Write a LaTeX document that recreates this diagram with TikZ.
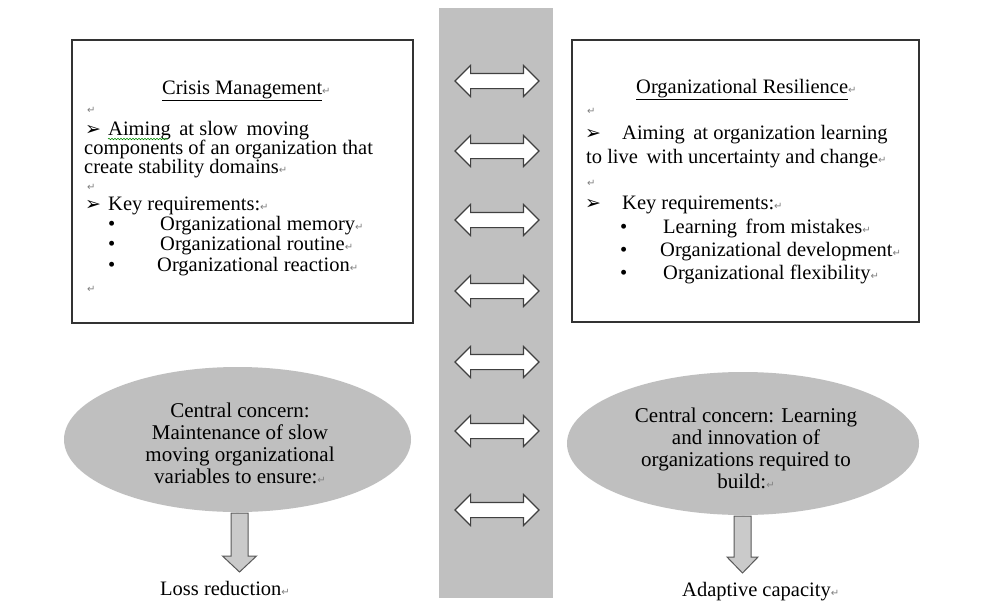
\documentclass[tikz,border=0pt]{standalone}
\usepackage{fontspec}
\setmainfont{Liberation Serif}
\newfontfamily\dejavu{DejaVu Sans}
\usetikzlibrary{shapes.geometric,shapes.arrows,decorations.pathmorphing}
\definecolor{bandgray}{RGB}{192,192,192}
\definecolor{ellgray}{RGB}{191,191,191}
\definecolor{arrgray}{RGB}{202,202,202}
\newcommand{\retm}{{\dejavu\fontsize{10}{10}\selectfont\textcolor{black!50}{↵}}}
\newcommand{\pntr}{{\dejavu\bfseries\fontsize{19}{19}\selectfont ➢}}
\begin{document}
\begin{tikzpicture}[x=1pt,y=-1pt,
  txt/.style={inner sep=0pt, anchor=base west, font=\fontsize{20.5}{20.5}\selectfont},
  rmark/.style={inner sep=0pt, anchor=base west},
  box/.style={draw=black!80, line width=1.3pt, rectangle, inner sep=0pt},
  dblarr/.style={double arrow, draw=black!75, fill=white, line width=1.1pt,
    minimum height=84pt, minimum width=30pt, inner xsep=0pt, inner ysep=7pt,
    double arrow head extend=8pt},
  downarr/.style={draw=black!65, fill=arrgray, line width=1pt, line join=miter},
  ell/.style={ellipse, fill=ellgray, inner sep=0pt},
  elltxt/.style={inner sep=0pt, align=center, font=\fontsize{21}{22}\selectfont},
  squig/.style={draw=green!55!black, line width=0.6pt, decorate,
    decoration={snake, amplitude=0.7pt, segment length=3pt}}]
\useasboundingbox (0,0) rectangle (1000,610);
\fill[white] (0,0) rectangle (1000,610);

% central band
\node[fill=bandgray, inner sep=0pt, minimum width=114pt, minimum height=590pt] (band) at (496,303) {};

% double arrows
\foreach \y [count=\i] in {81,151,220,291,362,431,510}
  \node[dblarr] (da\i) at (497,\y) {};

% boxes
\node[box, minimum width=341pt, minimum height=283pt] (lbox) at (242.5,181.5) {};
\node[box, minimum width=347pt, minimum height=282pt] (rbox) at (745.5,181) {};

% left box text
\node[txt] (lt1) at (162,94) {\underline{Crisis Management}\retm};
\node[rmark] (lr1) at (87,113) {\retm};
\node[rmark] (lp1) at (85,135) {\pntr};
\node[txt] (lt2) at (108,135) {Aiming\, at slow\, moving};
\draw[squig] (108,139) -- (168,139);
\node[txt] (lt3) at (84,154) {components of an organization that};
\node[txt] (lt4) at (84,173) {create stability domains\retm};
\node[rmark] (lr2) at (87,190) {\retm};
\node[rmark] (lp2) at (85,210) {\pntr};
\node[txt] (lt5) at (108,210) {Key requirements:\retm};
\node[txt] (lb1) at (108,230) {•};
\node[txt] (lt6) at (160,230) {Organizational memory\retm};
\node[txt] (lb2) at (108,250) {•};
\node[txt] (lt7) at (160,250) {Organizational routine\retm};
\node[txt] (lb3) at (108,271) {•};
\node[txt] (lt8) at (157,271) {Organizational reaction\retm};
\node[rmark] (lr3) at (87,292) {\retm};

% right box text
\node[txt] (rt1) at (636,93) {\underline{Organizational Resilience}\retm};
\node[rmark] (rr1) at (587,114) {\retm};
\node[rmark] (rp1) at (585,139) {\pntr};
\node[txt] (rt2) at (622,139) {Aiming\, at organization learning};
\node[txt] (rt3) at (586,163) {to live\, with uncertainty and change\retm};
\node[rmark] (rr2) at (587,186) {\retm};
\node[rmark] (rp2) at (585,209) {\pntr};
\node[txt] (rt4) at (622,209) {Key requirements:\retm};
\node[txt] (rb1) at (620,233) {•};
\node[txt] (rt5) at (663,233) {Learning\, from mistakes\retm};
\node[txt] (rb2) at (620,256) {•};
\node[txt] (rt6) at (660,256) {Organizational development\retm};
\node[txt] (rb3) at (620,279) {•};
\node[txt] (rt7) at (663,279) {Organizational flexibility\retm};

% ellipses
\node[ell, minimum width=347pt, minimum height=145pt] (le) at (237.5,439.5) {};
\node[ell, minimum width=352pt, minimum height=143pt] (re) at (743,443.5) {};
\node[elltxt] (let) at (240,443) {Central concern:\\Maintenance of slow\\moving organizational\\variables to ensure:\retm};
\node[elltxt] (ret) at (746,448) {Central concern: Learning\\and innovation of\\organizations required to\\build:\retm};

% down arrows
\coordinate (la) at (239.5,513);
\coordinate (ra) at (742.5,516);
\draw[downarr, shift={(la)}] (-8.5,0) -- (-8.5,43) -- (-17,43) -- (0,59) -- (17,43) -- (8.5,43) -- (8.5,0) -- cycle;
\draw[downarr, shift={(ra)}] (-8.5,0) -- (-8.5,41) -- (-15.5,41) -- (0,57) -- (15.5,41) -- (8.5,41) -- (8.5,0) -- cycle;

% labels
\node[txt] (ll) at (160,595) {Loss reduction\retm};
\node[txt] (rl) at (682,596) {Adaptive capacity\retm};
\end{tikzpicture}
\end{document}
